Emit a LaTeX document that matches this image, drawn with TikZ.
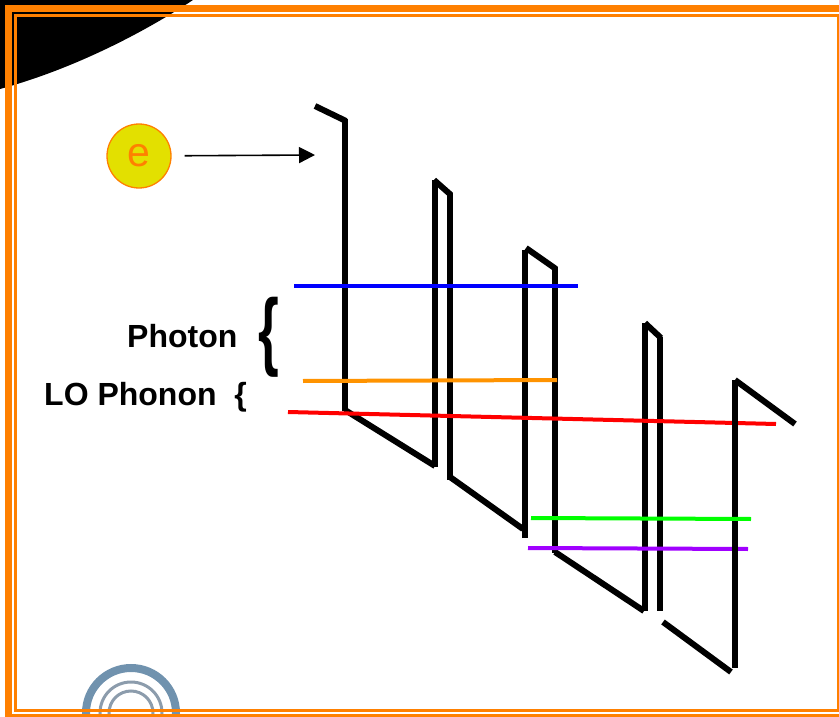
\documentclass[tikz,border=0pt]{standalone}
\usepackage{fontspec}
\setmainfont{Liberation Sans}
\usepackage{xcolor}
\usetikzlibrary{positioning, arrows.meta}
\definecolor{cFrame}{HTML}{FF8000}
\definecolor{cBall}{HTML}{E3E000}
\definecolor{cLogoA}{HTML}{7092AE}
\definecolor{cLogoB}{HTML}{8C9CAC}
\definecolor{cPump}{HTML}{0000FF}
\definecolor{cPhot}{HTML}{FF9300}
\definecolor{cPhon}{HTML}{FF0000}
\definecolor{cUpper}{HTML}{00FF00}
\definecolor{cLower}{HTML}{A000FF}
\tikzset{
  barrier/.style   ={line width=6pt, draw=black},
  level/.style     ={line width=4pt},
  frameline/.style ={draw=cFrame},
  biglabel/.style  ={font=\fontsize{32}{36}\bfseries\selectfont, inner sep=0pt},
  electron/.style  ={circle, draw=cFrame, fill=cBall, line width=1.3pt,
                     minimum size=64pt, inner sep=0pt, text=cFrame,
                     font=\fontsize{41}{41}\selectfont},
  flow/.style      ={-{Triangle[length=16pt, width=16pt]}, line width=1.6pt, draw=black},
}
\begin{document}
\begin{tikzpicture}[x=1pt, y=-1pt]
  \useasboundingbox (0,0) rectangle (839,717);
  \clip (0,0) rectangle (839,717);

  % ============================================================
  % BACKDROP: dark corner and logo arcs
  % ============================================================
  \fill[black] (0,0) -- (193,0) .. controls (140,35) and (70,70) .. (0,89) -- cycle;
  \draw[cLogoA, line width=8pt] (131,713) circle (45);
  \draw[cLogoB, line width=3pt] (131,713) circle (31);
  \draw[cLogoB, line width=3pt] (131,713) circle (22);

  % ============================================================
  % FRAME
  % ============================================================
  \draw[frameline, line width=7pt] (8.5,8.5) rectangle (860,717.5);
  \draw[frameline, line width=2.5pt] (15.3,15.5) rectangle (838,710.5);

  % ============================================================
  % CONDUCTION BAND PROFILE
  % ============================================================
  \draw[barrier] (315,106) -- (346,121);
  \draw[barrier] (345,119) -- (345,411);
  \draw[barrier] (345,410) -- (435,466);
  \draw[barrier] (435,467) -- (435,180);
  \draw[barrier] (434,180) -- (451,195);
  \draw[barrier] (450,193) -- (450,480);
  \draw[barrier] (450,477) -- (523,529);
  \draw[barrier] (525,538) -- (525,250);
  \draw[barrier] (526,248) -- (556,269);
  \draw[barrier] (555,267) -- (555,553);
  \draw[barrier] (555,552) -- (644,611);
  \draw[barrier] (645,611) -- (645,323);
  \draw[barrier] (645,323) -- (661,338);
  \draw[barrier] (660,337) -- (660,611);
  \draw[barrier] (663,622) -- (731,672);

  % Levels across the wells
  \draw[level, cPump] (294,286) -- (578,286);
  \draw[level, cPhot] (303,381) -- (557,380);
  \draw[level, cPhon] (288,412) -- (776,424);
  \draw[level, cLower] (528,548) -- (748,549);

  % Last barrier sits over the red and violet levels
  \draw[barrier] (735,668) -- (735,380);
  \draw[barrier] (735,380) -- (795,424);
  \draw[level, cUpper] (531,518) -- (751,519);

  % ============================================================
  % ELECTRON AND LABELS
  % ============================================================
  \node[electron] (ball) at (139,156) {\raisebox{-1.5pt}{e}};
  \coordinate (inject) at (315,155);
  \draw[flow, shorten <=13pt] (ball) -- (inject);

  \node[biglabel, anchor=base west] (photon) at (127,347) {Photon};
  \node[inner sep=0pt, font=\fontsize{86}{86}\bfseries\selectfont] (photonbrace) at (269,337)
       {\scalebox{0.62}[1]{\{}};
  \node[biglabel, anchor=base west] (phonon) at (44,405) {LO Phonon\ \ \{};

\end{tikzpicture}
\end{document}
